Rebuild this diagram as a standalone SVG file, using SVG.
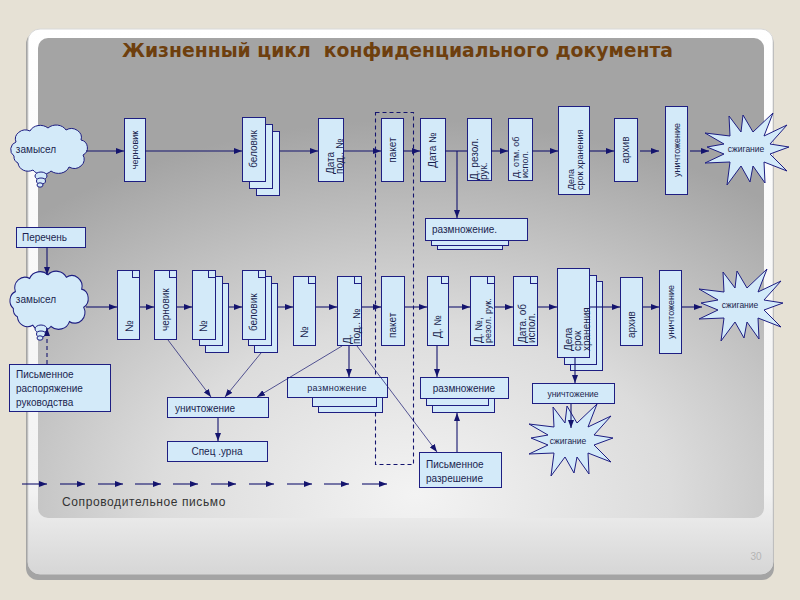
<svg xmlns="http://www.w3.org/2000/svg" xmlns:xlink="http://www.w3.org/1999/xlink" width="800" height="600" viewBox="0 0 800 600">
<defs>
<radialGradient id="panelG" cx="0.52" cy="0.95" r="0.78" gradientUnits="objectBoundingBox">
<stop offset="0" stop-color="#f3f3f3"/>
<stop offset="0.45" stop-color="#dcdcdc"/>
<stop offset="1" stop-color="#a4a4a4"/>
</radialGradient>
<linearGradient id="cardG" x1="0" y1="0" x2="0" y2="1">
<stop offset="0" stop-color="#ffffff"/>
<stop offset="0.85" stop-color="#f2f2f2"/>
<stop offset="1" stop-color="#d6d6d6"/>
</linearGradient>
<marker id="ah" viewBox="0 0 8 6" refX="8" refY="3" markerWidth="8" markerHeight="6" markerUnits="userSpaceOnUse" orient="auto">
<path d="M0,0 L8,3 L0,6 Z" fill="#14146e"/>
</marker>
<path id="cloud" d="M -34,7 a8,8 0 0 1 2,-14 a10,9 0 0 1 14,-11 a11,9 0 0 1 18,-3 a11,9 0 0 1 18,2 a10,9 0 0 1 15,10 a8,8 0 0 1 2,15 a10,9 0 0 1 -14,12 a11,9 0 0 1 -18,4 a11,9 0 0 1 -18,-1 a10,9 0 0 1 -15,-7 a7,7 0 0 1 -4,-7 Z"/>
<polygon id="star" points="42,-2 23,5 40,22 17,13 18,34 6,17 3,33 -6,17 -20,36 -17,13 -42,14 -23,5 -40,-2 -23,-5 -42,-16 -17,-13 -18,-33 -6,-17 -4,-34 6,-17 26,-36 17,-13 40,-24 23,-5"/>
</defs>
<style>
.box{fill:#d3eaf9;stroke:#1e1e82;stroke-width:1}
.shape{fill:#d3eaf9;stroke:#1e1e82;stroke-width:1}
.t{font-family:"Liberation Sans",Arial,sans-serif;font-size:10px;fill:#1a1f4f}
.s9{font-size:9px}
.s85{font-size:8.5px}
.s11{font-size:11px}
.m{text-anchor:middle}
.c{stroke:#14146e;stroke-width:1.1;fill:none}
.ca{stroke:#14146e;stroke-width:1.1;fill:none;marker-end:url(#ah)}
.thin{stroke:#14146e;stroke-width:0.7;fill:none;marker-end:url(#ah)}
.dash{stroke:#14146e;stroke-width:1.1;fill:none;stroke-dasharray:4 3}
</style>

<!-- background -->
<rect x="0" y="0" width="800" height="600" fill="#e6e1d5"/>
<rect x="26" y="32" width="748" height="548" rx="12" fill="#a4a4a4"/>
<rect x="28" y="29" width="745" height="545" rx="12" fill="url(#cardG)" stroke="#d8d8d8" stroke-width="1"/>
<rect x="38" y="38" width="726" height="480" rx="10" fill="url(#panelG)"/>
<text x="122" y="57" xml:space="preserve" textLength="551" lengthAdjust="spacingAndGlyphs" style="font-family:'DejaVu Sans Condensed','Liberation Sans',Arial,sans-serif;font-stretch:condensed;font-weight:bold;font-style:normal;font-size:20px;fill:#6e3f0e;white-space:pre">Жизненный цикл  конфиденциального документа</text>
<text x="756" y="560" style="font-family:'Liberation Sans',Arial,sans-serif;font-size:10px;fill:#b4b4b4;text-anchor:middle">30</text>

<g id="packet-frame">
<rect x="375.5" y="112.5" width="38" height="352" class="dash"/>
</g>

<!-- top row -->
<g id="idea1">
<use href="#cloud" transform="translate(48,149)" class="shape"/>
<ellipse cx="41" cy="176" rx="6" ry="4" class="shape"/>
<ellipse cx="41" cy="181" rx="4.5" ry="3" class="shape"/>
<ellipse cx="40" cy="185" rx="3" ry="2.2" class="shape"/>
<text x="36" y="153" class="t m">замысел</text>
</g>
<g id="t-draft">
<rect x="124.5" y="118.5" width="21" height="63" class="box"/>
<text transform="translate(138,150) rotate(-90)" class="t s9 m">черновик</text>
</g>
<g id="t-clean">
<rect x="256.5" y="131.5" width="23" height="64" class="box"/>
<rect x="249.5" y="124.5" width="23" height="64" class="box"/>
<rect x="242.5" y="117.5" width="23" height="64" class="box"/>
<text transform="translate(257,149) rotate(-90)" class="t m">беловик</text>
</g>
<g id="t-date-sign">
<rect x="318.5" y="118.5" width="25" height="63" class="box"/>
<text transform="translate(334,174) rotate(-90)" class="t">Дата</text>
<text transform="translate(343,174) rotate(-90)" class="t">под.. №</text>
</g>
<g id="t-packet">
<rect x="381.5" y="118.5" width="22" height="63" class="box"/>
<text transform="translate(396,150) rotate(-90)" class="t m">пакет</text>
</g>
<g id="t-date-no">
<rect x="420.5" y="118.5" width="25" height="63" class="box"/>
<text transform="translate(436,150) rotate(-90)" class="t m">Дата №</text>
</g>
<g id="t-resol">
<rect x="467.5" y="118.5" width="24" height="62" class="box"/>
<text transform="translate(478,180) rotate(-90)" class="t">Д. резол.</text>
<text transform="translate(487,180) rotate(-90)" class="t">рук.</text>
</g>
<g id="t-exec">
<rect x="508.5" y="118.5" width="24" height="62" class="box"/>
<text transform="translate(519,178) rotate(-90)" class="t s9">Д. отм. об</text>
<text transform="translate(528,178) rotate(-90)" class="t s9">испол.</text>
</g>
<g id="t-files">
<rect x="558.5" y="106.5" width="31" height="88" class="box"/>
<text transform="translate(574,190) rotate(-90)" class="t s9">Дела</text>
<text transform="translate(583,190) rotate(-90)" class="t s9">срок хранения</text>
</g>
<g id="t-archive">
<rect x="614.5" y="118.5" width="23" height="63" class="box"/>
<text transform="translate(629,150) rotate(-90)" class="t m">архив</text>
</g>
<g id="t-destroy">
<rect x="665.5" y="106.5" width="22" height="88" class="box"/>
<text transform="translate(680,150) rotate(-90)" class="t s9 m">уничтожение</text>
</g>
<g id="t-burn">
<use href="#star" transform="translate(747,149)" class="shape"/>
<text x="746" y="152" class="t s85 m">сжигание</text>
</g>
<g id="t-copy">
<rect x="437.5" y="226.5" width="65" height="23" class="box"/>
<rect x="431.5" y="222.5" width="77" height="23" class="box"/>
<rect x="425.5" y="218.5" width="102" height="22" class="box"/>
<text x="432" y="233" class="t">размножение.</text>
</g>

<!-- middle left -->
<g id="list">
<rect x="16.5" y="227.5" width="69" height="20" class="box"/>
<text x="22" y="241" class="t">Перечень</text>
</g>
<g id="idea2">
<use href="#cloud" transform="translate(48,300) scale(1.02,1.2)" class="shape"/>
<ellipse cx="41" cy="329" rx="6" ry="4" class="shape"/>
<ellipse cx="41" cy="334" rx="4.5" ry="3" class="shape"/>
<ellipse cx="40" cy="338" rx="3" ry="2.2" class="shape"/>
<text x="36" y="303" class="t m">замысел</text>
</g>
<g id="order">
<rect x="9.5" y="364.5" width="101" height="47" class="box"/>
<text x="16" y="378" class="t">Письменное</text>
<text x="16" y="392" class="t">распоряжение</text>
<text x="16" y="406" class="t">руководства</text>
</g>

<!-- bottom row -->
<g id="b-no1">
<rect x="117.5" y="270.5" width="22" height="69" class="box"/>
<rect x="132.5" y="270.5" width="7" height="7" class="box"/>
<text transform="translate(133,332) rotate(-90)" class="t s11">№</text>
</g>
<g id="b-draft">
<rect x="154.5" y="270.5" width="22" height="69" class="box"/>
<rect x="169.5" y="270.5" width="7" height="7" class="box"/>
<text transform="translate(169,331) rotate(-90)" class="t">черновик</text>
</g>
<g id="b-no2">
<rect x="205.5" y="283.5" width="23" height="69" class="box"/>
<rect x="199.5" y="276.5" width="23" height="69" class="box"/>
<rect x="192.5" y="270.5" width="23" height="69" class="box"/>
<rect x="208.5" y="270.5" width="7" height="7" class="box"/>
<text transform="translate(207,332) rotate(-90)" class="t s11">№</text>
</g>
<g id="b-clean">
<rect x="254.5" y="283.5" width="23" height="69" class="box"/>
<rect x="248.5" y="276.5" width="23" height="69" class="box"/>
<rect x="242.5" y="270.5" width="23" height="69" class="box"/>
<rect x="258.5" y="270.5" width="7" height="7" class="box"/>
<text transform="translate(257,331) rotate(-90)" class="t">беловик</text>
</g>
<g id="b-no3">
<rect x="293.5" y="276.5" width="22" height="69" class="box"/>
<rect x="308.5" y="276.5" width="7" height="7" class="box"/>
<text transform="translate(308,338) rotate(-90)" class="t s11">№</text>
</g>
<g id="b-date-sign">
<rect x="337.5" y="276.5" width="24" height="69" class="box"/>
<rect x="354.5" y="276.5" width="7" height="7" class="box"/>
<text transform="translate(351,344) rotate(-90)" class="t">Д.</text>
<text transform="translate(360,344) rotate(-90)" class="t">под.. №</text>
</g>
<g id="b-packet">
<rect x="381.5" y="276.5" width="23" height="69" class="box"/>
<text transform="translate(396,338) rotate(-90)" class="t">пакет</text>
</g>
<g id="b-date-no">
<rect x="427.5" y="276.5" width="21" height="69" class="box"/>
<rect x="441.5" y="276.5" width="7" height="7" class="box"/>
<text transform="translate(441,338) rotate(-90)" class="t">Д. №</text>
</g>
<g id="b-resol">
<rect x="470.5" y="276.5" width="24" height="69" class="box"/>
<rect x="487.5" y="276.5" width="7" height="7" class="box"/>
<text transform="translate(482,343) rotate(-90)" class="t">Д. №,</text>
<text transform="translate(491,343) rotate(-90)" class="t s9">резол. рук.</text>
</g>
<g id="b-exec">
<rect x="513.5" y="276.5" width="24" height="69" class="box"/>
<rect x="530.5" y="276.5" width="7" height="7" class="box"/>
<text transform="translate(526,343) rotate(-90)" class="t">Дата. об</text>
<text transform="translate(535,343) rotate(-90)" class="t">испол.</text>
</g>
<g id="b-files">
<rect x="570.5" y="281.5" width="32" height="89" class="box"/>
<rect x="564.5" y="275.5" width="32" height="89" class="box"/>
<rect x="557.5" y="268.5" width="32" height="89" class="box"/>
<text transform="translate(572,351) rotate(-90)" class="t">Дела</text>
<text transform="translate(581,351) rotate(-90)" class="t">срок</text>
<text transform="translate(590,351) rotate(-90)" class="t">хранения</text>
</g>
<g id="b-archive">
<rect x="620.5" y="277.5" width="22" height="68" class="box"/>
<text transform="translate(635,338) rotate(-90)" class="t">архив</text>
</g>
<g id="b-destroy">
<rect x="659.5" y="270.5" width="22" height="83" class="box"/>
<text transform="translate(674,312) rotate(-90)" class="t s9 m">уничтожение</text>
</g>
<g id="b-burn">
<use href="#star" transform="translate(741,305)" class="shape"/>
<text x="740" y="308" class="t s85 m">сжигание</text>
</g>

<!-- lower -->
<g id="destroy-drafts">
<rect x="167.5" y="397.5" width="101" height="20" class="box"/>
<text x="175" y="412" class="t">уничтожение</text>
</g>
<g id="urn">
<rect x="167.5" y="441.5" width="100" height="20" class="box"/>
<text x="217" y="455" class="t m">Спец .урна</text>
</g>
<g id="copy1">
<rect x="318.5" y="395.5" width="64" height="17" class="box"/>
<rect x="312.5" y="389.5" width="64" height="17" class="box"/>
<rect x="287.5" y="377.5" width="100" height="20" class="box"/>
<text x="337" y="391" class="t s9 m" letter-spacing="0.3">размножение</text>
</g>
<g id="copy2">
<rect x="432.5" y="394.5" width="62" height="18" class="box"/>
<rect x="426.5" y="387.5" width="62" height="18" class="box"/>
<rect x="420.5" y="377.5" width="88" height="21" class="box"/>
<text x="464" y="392" class="t m">размножение</text>
</g>
<g id="permit">
<rect x="419.5" y="452.5" width="82" height="35" class="box"/>
<text x="426" y="468" class="t">Письменное</text>
<text x="426" y="482" class="t">разрешение</text>
</g>
<g id="destroy-files">
<rect x="532.5" y="383.5" width="82" height="20" class="box"/>
<text x="573" y="397" class="t s85 m">уничтожение</text>
</g>
<g id="burn3">
<use href="#star" transform="translate(571,440)" class="shape"/>
<text x="568" y="444" class="t s85 m">сжигание</text>
</g>
<g id="cover-letter">
<text x="62" y="506" style="font-family:'Liberation Sans',Arial,sans-serif;font-size:12px;fill:#333333;letter-spacing:0.6px">Сопроводительное письмо</text>
</g>

<!-- connectors -->
<g id="connectors">
<path d="M86,151 H124" class="ca"/>
<path d="M145,151 H242" class="ca"/>
<path d="M279,151 H318" class="ca"/>
<path d="M343,151 H381" class="ca"/>
<path d="M403,151 H420" class="ca"/>
<path d="M445,151 H467" class="c"/>
<path d="M457,151 V218" class="ca"/>
<path d="M491,151 H508" class="ca"/>
<path d="M532,151 H558" class="ca"/>
<path d="M589,151 H614" class="ca"/>
<path d="M640,151 H659" class="ca"/>
<path d="M690,151 H709" class="ca"/>

<path d="M47,247 V275" class="ca"/>
<path d="M47,364 V328" class="dash" marker-end="url(#ah)"/>

<path d="M86,307 H117" class="ca"/>
<path d="M140,307 H154" class="ca"/>
<path d="M177,307 H192" class="ca"/>
<path d="M229,307 H242" class="ca"/>
<path d="M278,307 H293" class="ca"/>
<path d="M316,307 H337" class="ca"/>
<path d="M362,307 H381" class="ca"/>
<path d="M405,307 H427" class="ca"/>
<path d="M449,307 H470" class="ca"/>
<path d="M495,307 H513" class="ca"/>
<path d="M538,307 H557" class="ca"/>
<path d="M590,307 H620" class="ca"/>
<path d="M643,307 H659" class="ca"/>
<path d="M682,307 H702" class="ca"/>

<path d="M168,340 L211,397" class="thin"/>
<path d="M261,353 L225,397" class="thin"/>
<path d="M342,346 L257,397" class="thin"/>
<path d="M218,418 V441" class="ca"/>
<path d="M349,346 V377" class="ca"/>
<path d="M357,346 L437,452" class="thin"/>
<path d="M437,346 V377" class="ca"/>
<path d="M457,452 V413" class="ca"/>
<path d="M575,358 V383" class="ca"/>
<path d="M571,404 V428" class="ca"/>

<path d="M22,484 H47" class="ca"/>
<path d="M60,484 H85" class="ca"/>
<path d="M98,484 H123" class="ca"/>
<path d="M135,484 H161" class="ca"/>
<path d="M173,484 H198" class="ca"/>
<path d="M211,484 H236" class="ca"/>
<path d="M249,484 H274" class="ca"/>
<path d="M287,484 H312" class="ca"/>
<path d="M324,484 H349" class="ca"/>
<path d="M362,484 H387" class="ca"/>
</g>
</svg>
